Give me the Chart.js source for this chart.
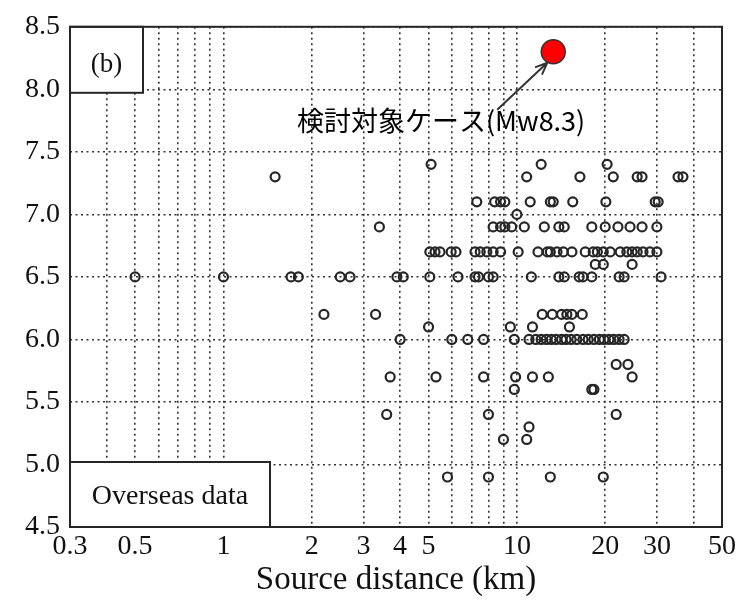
<!DOCTYPE html>
<html>
<head>
<meta charset="utf-8">
<script src="https://cdn.jsdelivr.net/npm/chart.js@4.4.0/dist/chart.umd.min.js"></script>
<style>
  html, body { margin: 0; padding: 0; background: #fff; }
  .wrap { width: 740px; height: 600px; }
</style>
</head>
<body>
<div class="wrap"><canvas id="chart" width="740" height="600"></canvas></div>
<script>
// magnitude rows (Mw) and the source distances (km) read for each row
const magnitudeRows = [7.4, 7.3, 7.1, 7.0, 6.9, 6.7, 6.6, 6.5, 6.2, 6.1, 6.0, 5.8, 5.7, 5.6, 5.4, 5.3, 5.2, 4.9];
const distancesByRow = [
    [5.1, 12.1, 20.3],
    [1.5, 10.8, 16.4, 21.3, 25.7, 26.7, 35.4, 36.8],
    [7.3, 8.4, 8.8, 9.1, 11.1, 13.0, 13.3, 15.5, 20.1, 29.6, 30.3],
    [10.0],
    [3.4, 8.3, 8.8, 9.1, 9.6, 10.6, 12.4, 13.9, 14.5, 18.0, 20.0, 22.1, 24.3, 26.7, 30.0],
    [5.05, 5.26, 5.47, 5.97, 6.2, 7.2, 7.5, 7.9, 8.3, 8.8, 10.1, 11.8, 12.7, 13.0, 13.7, 14.4, 15.4, 17.1, 18.2, 18.8, 19.7, 20.8, 22.5, 23.7, 24.7, 25.7, 26.9, 28.4, 30.0],
    [18.5, 19.7, 24.7],
    [0.5, 1.0, 1.7, 1.8, 2.5, 2.7, 3.9, 4.1, 5.05, 6.3, 7.2, 7.4, 8.0, 8.3, 11.2, 13.9, 14.5, 16.3, 16.8, 18.0, 22.3, 23.2, 31.0],
    [2.2, 3.3, 12.2, 13.2, 14.2, 14.8, 15.4, 16.7],
    [5.0, 9.5, 11.3, 15.1],
    [4.0, 6.0, 6.8, 7.7, 9.8, 11.0, 11.6, 12.1, 12.6, 13.1, 13.6, 14.2, 14.7, 15.3, 16.0, 16.8, 17.5, 18.3, 19.1, 19.8, 20.6, 21.4, 22.3, 23.2],
    [21.8, 23.9],
    [3.7, 5.3, 7.7, 9.9, 11.3, 12.8, 24.7],
    [9.8, 18.0, 18.3],
    [3.6, 8.0, 21.8],
    [11.0],
    [9.0, 10.8],
    [5.8, 8.0, 13.0, 19.7]
];

const targetCase = {x: 13.3, y: 8.3};
const targetLabel = '検討対象ケース(Mw8.3)';

const xGridValues = [0.3, 0.4, 0.5, 0.6, 0.7, 0.8, 0.9, 1, 2, 3, 4, 5, 6, 7, 8, 9, 10, 20, 30, 40, 50];
const xTickLabels = [0.3, 0.5, 1, 2, 3, 4, 5, 10, 20, 30, 50];
const yTickLabels = [4.5, 5.0, 5.5, 6.0, 6.5, 7.0, 7.5, 8.0, 8.5];

const SERIF = '"Liberation Serif", "Times New Roman", serif';
const INK = '#262626';

const overseasPoints = [];
magnitudeRows.forEach((mw, i) => {
    distancesByRow[i].forEach(d => overseasPoints.push({x: d, y: mw}));
});

const overlayPlugin = {
    id: 'overlay',
    beforeDatasetsDraw(chart) {
        const {ctx, chartArea: a} = chart;
        const drawBox = (x, y, w, h, text, size, ty) => {
            ctx.save();
            ctx.fillStyle = '#fff';
            ctx.fillRect(x, y, w, h);
            ctx.strokeStyle = INK;
            ctx.lineWidth = 2;
            ctx.strokeRect(x, y, w, h);
            ctx.fillStyle = '#111';
            ctx.font = size + 'px ' + SERIF;
            ctx.textAlign = 'center';
            ctx.textBaseline = 'middle';
            ctx.fillText(text, x + w / 2, ty);
            ctx.restore();
        };
        drawBox(a.left, a.top, 73, 66, '(b)', 27, a.top + 38);
        drawBox(a.left, a.bottom - 65, 200, 65, 'Overseas data', 28, a.bottom - 30);
    },
    afterDatasetsDraw(chart) {
        const {ctx, chartArea: a, scales} = chart;
        ctx.save();
        ctx.strokeStyle = INK;
        ctx.lineWidth = 2;
        ctx.strokeRect(a.left, a.top, a.right - a.left, a.bottom - a.top);

        // annotation with arrow to the target case
        const px = scales.x.getPixelForValue(targetCase.x);
        const py = scales.y.getPixelForValue(targetCase.y);
        const tipX = px - 6, tipY = py + 11;
        const tailX = tipX - 50, tailY = tipY + 47;
        ctx.strokeStyle = '#333';
        ctx.lineWidth = 2;
        ctx.beginPath();
        ctx.moveTo(tailX, tailY);
        ctx.lineTo(tipX, tipY);
        const ang = Math.atan2(tipY - tailY, tipX - tailX);
        const head = 13;
        ctx.moveTo(tipX - head * Math.cos(ang - 0.4), tipY - head * Math.sin(ang - 0.4));
        ctx.lineTo(tipX, tipY);
        ctx.lineTo(tipX - head * Math.cos(ang + 0.4), tipY - head * Math.sin(ang + 0.4));
        ctx.stroke();

        ctx.fillStyle = '#000';
        ctx.font = '27px "Noto Sans CJK JP", "Noto Sans", sans-serif';
        ctx.textAlign = 'right';
        ctx.textBaseline = 'middle';
        ctx.fillText(targetLabel, tailX + 88, tailY + 11);
        ctx.restore();
    }
};

new Chart(document.getElementById('chart'), {
    type: 'scatter',
    data: {
        datasets: [{
            data: [targetCase],
            pointRadius: 12,
            pointBackgroundColor: '#ff0000',
            pointBorderColor: '#333',
            pointBorderWidth: 1.5
        }, {
            data: overseasPoints,
            pointRadius: 4.5,
            pointBackgroundColor: 'rgba(255,255,255,0)',
            pointBorderColor: INK,
            pointBorderWidth: 2.2
        }]
    },
    options: {
        responsive: false,
        animation: false,
        layout: {padding: {top: 18, right: 18, left: 0, bottom: 0}},
        plugins: {legend: {display: false}, tooltip: {enabled: false}},
        scales: {
            x: {
                type: 'logarithmic',
                min: 0.3,
                max: 50,
                afterBuildTicks: axis => {
                    axis.ticks = xGridValues.map(v => ({value: v}));
                },
                afterFit: axis => { axis.height = 73; },
                ticks: {
                    autoSkip: false,
                    maxRotation: 0,
                    padding: 3,
                    color: '#111',
                    font: {family: SERIF, size: 28},
                    callback: v => (xTickLabels.includes(v) ? String(v) : '')
                },
                grid: {color: '#333', lineWidth: 1.6, drawTicks: false},
                border: {display: false, dash: [2, 3.5]},
                title: {
                    display: true,
                    text: 'Source distance (km)',
                    color: '#111',
                    font: {family: SERIF, size: 33},
                    padding: {top: -4, bottom: 0}
                }
            },
            y: {
                min: 4.5,
                max: 8.5,
                afterBuildTicks: axis => {
                    axis.ticks = yTickLabels.map(v => ({value: v}));
                },
                afterFit: axis => { axis.width = 70; },
                ticks: {
                    padding: 10,
                    color: '#111',
                    font: {family: SERIF, size: 28},
                    callback: v => v.toFixed(1)
                },
                grid: {color: '#333', lineWidth: 1.6, drawTicks: false},
                border: {display: false, dash: [2, 3.5]}
            }
        }
    },
    plugins: [overlayPlugin]
});
</script>
</body>
</html>
